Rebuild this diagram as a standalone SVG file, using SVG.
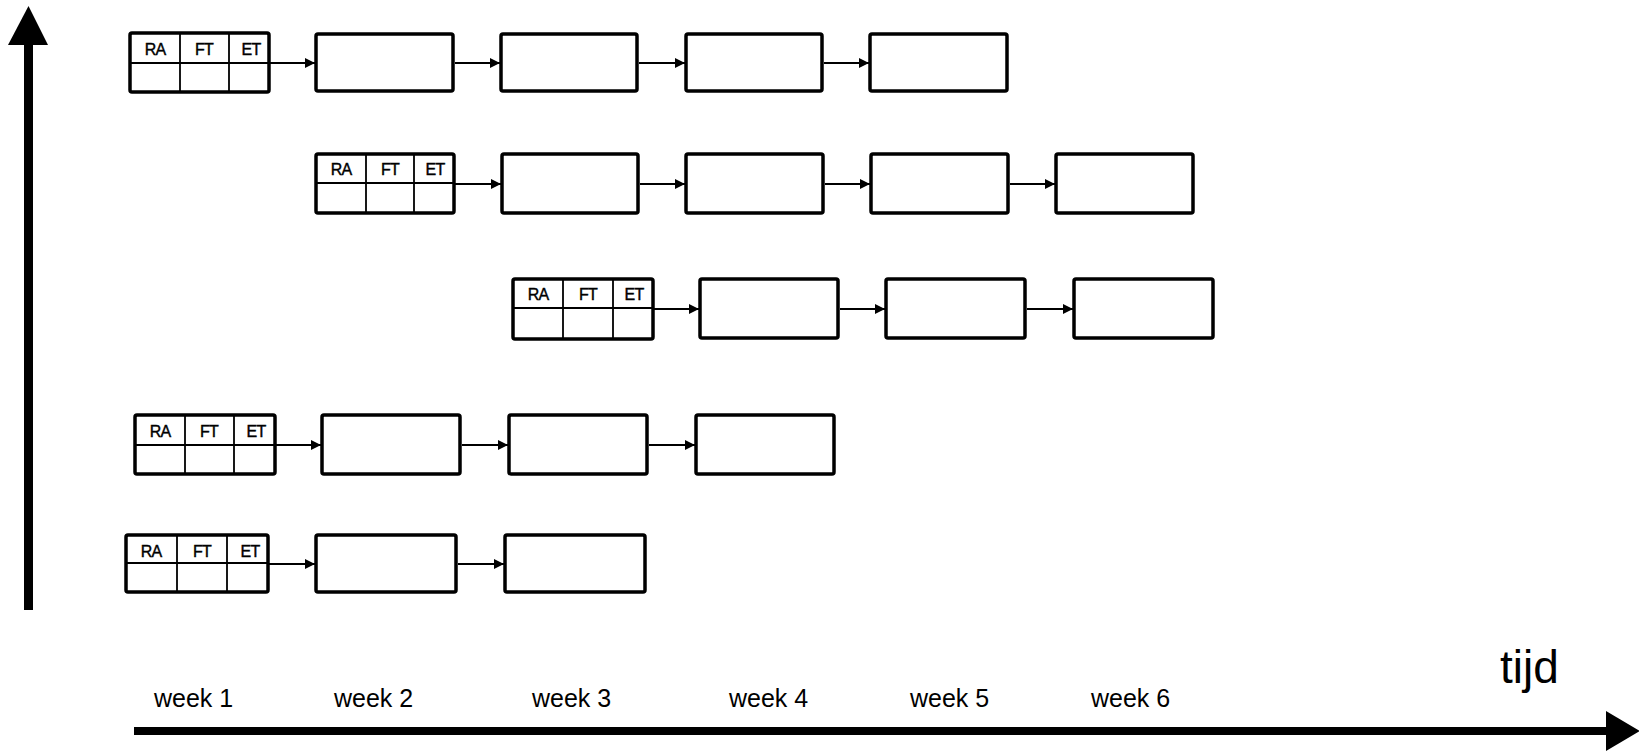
<svg xmlns="http://www.w3.org/2000/svg" width="1639" height="754" viewBox="0 0 1639 754">
<style>
.box{fill:#fff;stroke:#000;stroke-width:3.5;stroke-linejoin:round}
.grid{stroke:#000;stroke-width:1.8;fill:none}
.hd{font-family:"Liberation Sans",Arial,sans-serif;font-size:16px;fill:#000;stroke:#000;stroke-width:0.4;letter-spacing:-0.8px;text-anchor:middle}
.wk{font-family:"Liberation Sans",Arial,sans-serif;font-size:25px;fill:#000}
.con{stroke:#000;stroke-width:2;fill:none;marker-end:url(#ah)}
</style>
<defs>
<marker id="ah" markerUnits="userSpaceOnUse" markerWidth="11" markerHeight="11" refX="10" refY="5.5" orient="auto">
<path d="M0,0.5 L10,5.5 L0,10.5 z" fill="#000"/>
</marker>
</defs>
<rect width="1639" height="754" fill="#fff"/>
<g id="axes">
<line x1="28.5" y1="610" x2="28.5" y2="40" stroke="#000" stroke-width="9"/>
<polygon points="8,45 48,45 28.5,6" fill="#000"/>
<line x1="134" y1="731" x2="1610" y2="731" stroke="#000" stroke-width="8"/>
<polygon points="1606,711 1606,751 1640,731" fill="#000"/>
<text x="1500" y="683" font-family="'Liberation Sans',Arial,sans-serif" font-size="46" fill="#000">tijd</text>
</g>
<g id="weeks">
<text class="wk" x="154" y="707">week 1</text>
<text class="wk" x="334" y="707">week 2</text>
<text class="wk" x="532" y="707">week 3</text>
<text class="wk" x="729" y="707">week 4</text>
<text class="wk" x="910" y="707">week 5</text>
<text class="wk" x="1091" y="707">week 6</text>
</g>
<g id="r1-table">
<rect class="box" x="130" y="33" width="139" height="59" rx="2"/>
<path class="grid" d="M130,63 H269 M180,33 V92 M229,33 V92"/>
<text class="hd" x="155" y="55">RA</text>
<text class="hd" x="204" y="55">FT</text>
<text class="hd" x="251" y="55">ET</text>
</g>
<g id="r1-b1"><rect class="box" x="316" y="34" width="137" height="57" rx="2"/></g>
<g id="r1-b2"><rect class="box" x="501" y="34" width="136" height="57" rx="2"/></g>
<g id="r1-b3"><rect class="box" x="686" y="34" width="136" height="57" rx="2"/></g>
<g id="r1-b4"><rect class="box" x="870" y="34" width="137" height="57" rx="2"/></g>
<g id="r2-table">
<rect class="box" x="316" y="154" width="138" height="59" rx="2"/>
<path class="grid" d="M316,183 H454 M366,154 V213 M414,154 V213"/>
<text class="hd" x="341" y="175">RA</text>
<text class="hd" x="390" y="175">FT</text>
<text class="hd" x="435" y="175">ET</text>
</g>
<g id="r2-b1"><rect class="box" x="502" y="154" width="136" height="59" rx="2"/></g>
<g id="r2-b2"><rect class="box" x="686" y="154" width="137" height="59" rx="2"/></g>
<g id="r2-b3"><rect class="box" x="871" y="154" width="137" height="59" rx="2"/></g>
<g id="r2-b4"><rect class="box" x="1056" y="154" width="137" height="59" rx="2"/></g>
<g id="r3-table">
<rect class="box" x="513" y="279" width="140" height="60" rx="2"/>
<path class="grid" d="M513,308 H653 M563,279 V339 M613,279 V339"/>
<text class="hd" x="538" y="300">RA</text>
<text class="hd" x="588" y="300">FT</text>
<text class="hd" x="634" y="300">ET</text>
</g>
<g id="r3-b1"><rect class="box" x="700" y="279" width="138" height="59" rx="2"/></g>
<g id="r3-b2"><rect class="box" x="886" y="279" width="139" height="59" rx="2"/></g>
<g id="r3-b3"><rect class="box" x="1074" y="279" width="139" height="59" rx="2"/></g>
<g id="r4-table">
<rect class="box" x="135" y="415" width="140" height="59" rx="2"/>
<path class="grid" d="M135,445 H275 M185,415 V474 M234,415 V474"/>
<text class="hd" x="160" y="437">RA</text>
<text class="hd" x="209" y="437">FT</text>
<text class="hd" x="256" y="437">ET</text>
</g>
<g id="r4-b1"><rect class="box" x="322" y="415" width="138" height="59" rx="2"/></g>
<g id="r4-b2"><rect class="box" x="509" y="415" width="138" height="59" rx="2"/></g>
<g id="r4-b3"><rect class="box" x="696" y="415" width="138" height="59" rx="2"/></g>
<g id="r5-table">
<rect class="box" x="126" y="535" width="142" height="57" rx="2"/>
<path class="grid" d="M126,563 H268 M177,535 V592 M227,535 V592"/>
<text class="hd" x="151" y="557">RA</text>
<text class="hd" x="202" y="557">FT</text>
<text class="hd" x="250" y="557">ET</text>
</g>
<g id="r5-b1"><rect class="box" x="316" y="535" width="140" height="57" rx="2"/></g>
<g id="r5-b2"><rect class="box" x="505" y="535" width="140" height="57" rx="2"/></g>
<g id="connectors">
<line class="con" x1="270" y1="63" x2="315" y2="63"/>
<line class="con" x1="455" y1="63" x2="500" y2="63"/>
<line class="con" x1="639" y1="63" x2="685" y2="63"/>
<line class="con" x1="824" y1="63" x2="869" y2="63"/>
<line class="con" x1="455" y1="184" x2="501" y2="184"/>
<line class="con" x1="640" y1="184" x2="685" y2="184"/>
<line class="con" x1="825" y1="184" x2="870" y2="184"/>
<line class="con" x1="1010" y1="184" x2="1055" y2="184"/>
<line class="con" x1="654" y1="309" x2="699" y2="309"/>
<line class="con" x1="840" y1="309" x2="885" y2="309"/>
<line class="con" x1="1027" y1="309" x2="1073" y2="309"/>
<line class="con" x1="276" y1="445" x2="321" y2="445"/>
<line class="con" x1="462" y1="445" x2="508" y2="445"/>
<line class="con" x1="649" y1="445" x2="695" y2="445"/>
<line class="con" x1="269" y1="564" x2="315" y2="564"/>
<line class="con" x1="458" y1="564" x2="504" y2="564"/>
</g>
</svg>
